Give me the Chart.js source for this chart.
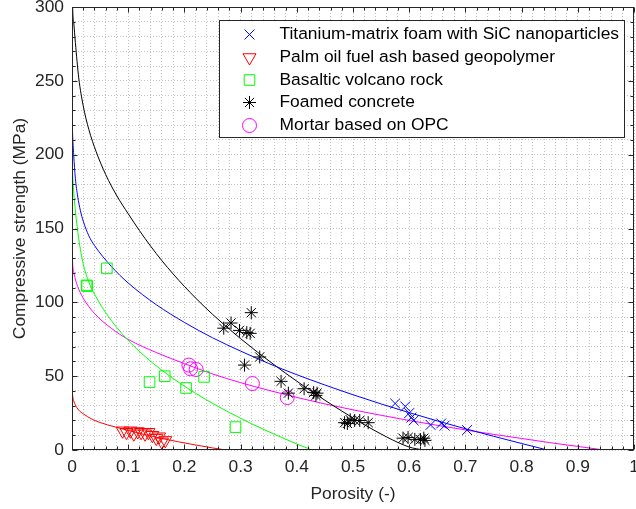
<!DOCTYPE html>
<html>
<head>
<meta charset="utf-8">
<script src="https://cdn.jsdelivr.net/npm/chart.js@4.4.0/dist/chart.umd.min.js"></script>
<style>
  html, body { margin: 0; padding: 0; background: #fff; }
</style>
</head>
<body>
<canvas id="chart" width="636" height="509"></canvas>
<script>
const tiPorosity = [0.575, 0.593, 0.600, 0.604, 0.608, 0.638, 0.657, 0.663, 0.703];
const tiStrength = [31.5, 29.5, 25, 22, 20, 17, 18, 16.5, 13.5];

const palmPorosity = [0.090, 0.097, 0.104, 0.110, 0.117, 0.123, 0.130, 0.136, 0.143, 0.150, 0.155, 0.160, 0.166];
const palmStrength = [13, 12, 13, 11, 12.5, 12, 11, 12, 10, 8, 9, 5.5, 6.5];

const basaltPorosity = [0.026, 0.027, 0.062, 0.138, 0.165, 0.203, 0.235, 0.291];
const basaltStrength = [111.5, 111, 123, 46, 50, 42, 49.5, 15.5];

const foamPorosity = [0.270, 0.283, 0.298, 0.311, 0.317, 0.319, 0.307, 0.334, 0.372, 0.385, 0.413, 0.430, 0.434, 0.436,
    0.485, 0.490, 0.495, 0.503, 0.512, 0.527, 0.589, 0.598, 0.610, 0.620, 0.626, 0.628];
const foamStrength = [82.5, 86, 81, 79.5, 79, 93, 57.5, 63, 46.5, 38.5, 41.5, 39, 37, 38.5,
    18.5, 18, 20.5, 20, 20, 18.5, 8, 8.5, 7.2, 7, 8, 6.5];

const mortarPorosity = [0.208, 0.211, 0.221, 0.321, 0.383];
const mortarStrength = [57.5, 55, 54.5, 45, 35.5];

// fitted curves
const tiFitP = [0, 0.001, 0.003, 0.006, 0.01, 0.015, 0.02, 0.03, 0.04, 0.07, 0.1, 0.15, 0.2, 0.25, 0.3, 0.35,
    0.4, 0.45, 0.5, 0.55, 0.6, 0.65, 0.7, 0.75, 0.8, 0.846];
const tiFitS = [231, 215, 200, 184, 172, 162, 155, 145, 138.5, 124.3, 113.1, 98.4, 86.4, 76, 67, 58.6,
    51, 44, 37.4, 31.2, 25.3, 19.7, 14.4, 9.3, 4.4, 0];

const palmFitP = [0, 0.001, 0.003, 0.006, 0.012, 0.02, 0.036, 0.05, 0.077, 0.1, 0.13, 0.16, 0.19, 0.22, 0.25, 0.274];
const palmFitS = [45, 38, 33.5, 30.5, 27, 24.5, 20.8, 18.6, 15.6, 13.2, 10.4, 7.8, 5.5, 3.4, 1.4, 0];

const basaltFitP = [0, 0.001, 0.003, 0.006, 0.012, 0.02, 0.03, 0.045, 0.06, 0.08, 0.1, 0.13, 0.16, 0.2, 0.24,
    0.28, 0.32, 0.36, 0.4, 0.427];
const basaltFitS = [200, 188, 175, 162, 143, 126, 113.8, 102.2, 93, 82.8, 74.2, 63.3, 54, 43.2, 33.8,
    25.4, 17.7, 10.7, 4.1, 0];

const foamFitP = [0, 0.001, 0.003, 0.006, 0.012, 0.02, 0.03, 0.043, 0.06, 0.08, 0.1, 0.12, 0.14, 0.16, 0.18, 0.2,
    0.22, 0.25, 0.28, 0.3, 0.33, 0.36, 0.4, 0.44, 0.48, 0.52, 0.56, 0.6, 0.625];
const foamFitS = [345, 303, 290, 276, 252, 233, 217, 202, 186.5, 172, 160, 148.6, 138, 128.2, 119.2, 110.8,
    102.9, 91.9, 81.8, 75.4, 66.3, 57.6, 46.6, 36.2, 26.4, 17.2, 8.8, 2, 0];

const mortarFitP = [0, 0.001, 0.003, 0.006, 0.01, 0.02, 0.04, 0.07, 0.1, 0.15, 0.2, 0.25, 0.3, 0.35, 0.4, 0.45,
    0.5, 0.55, 0.6, 0.65, 0.7, 0.75, 0.8, 0.85, 0.9, 0.947];
const mortarFitS = [142, 127.5, 121, 115.7, 110.8, 102.8, 92.5, 82.4, 74.9, 66, 58.5, 51.5, 45.6, 40.4, 35.6, 31.2,
    27.2, 23.5, 20, 16.7, 13.6, 10.6, 7.8, 5, 2.4, 0];

const seriesNames = [
    'Titanium-matrix foam with SiC nanoparticles',
    'Palm oil fuel ash based geopolymer',
    'Basaltic volcano rock',
    'Foamed concrete',
    'Mortar based on OPC'
];
const xTickLabels = ['0', '0.1', '0.2', '0.3', '0.4', '0.5', '0.6', '0.7', '0.8', '0.9', '1'];
const yTickLabels = ['0', '50', '100', '150', '200', '250', '300'];

const FONT = '"Liberation Sans", Arial, Helvetica, sans-serif';
const AXIS_COLOR = '#262626';

function toPoints(xs, ys) {
    return xs.map((v, i) => ({ x: v, y: ys[i] }));
}

// marker look for each series
const markers = [
    { color: '#0000ff', pointStyle: 'crossRot', radius: 7, rotation: 0 },
    { color: '#ff0000', pointStyle: 'triangle', radius: 7.5, rotation: 180 },
    { color: '#00ff00', pointStyle: 'rect', radius: 7.5, rotation: 0 },
    { color: '#000000', pointStyle: 'star', radius: 6.5, rotation: 0 },
    { color: '#ff00ff', pointStyle: 'circle', radius: 7, rotation: 0 },
];

function scatterSet(i, xs, ys) {
    const m = markers[i];
    return {
        label: seriesNames[i],
        data: toPoints(xs, ys),
        showLine: false,
        pointStyle: m.pointStyle,
        pointRadius: m.radius,
        pointRotation: m.rotation,
        borderColor: m.color,
        backgroundColor: 'rgba(0,0,0,0)',
        pointBorderWidth: 1,
        clip: 10,
    };
}

function curveSet(i, xs, ys) {
    return {
        label: seriesNames[i] + ' fit',
        data: toPoints(xs, ys),
        showLine: true,
        pointRadius: 0,
        borderColor: markers[i].color,
        borderWidth: 1,
        cubicInterpolationMode: 'monotone',
        fill: false,
    };
}

// box, inward ticks, tick labels, axis titles and the legend
const axisBox = {
    id: 'axisBox',
    afterDraw(chart) {
        const { ctx, chartArea: a, scales: { x, y } } = chart;
        const left = Math.round(a.left) + 0.5;
        const right = Math.round(a.right) - 0.5;
        const top = Math.round(a.top) + 0.5;
        const bottom = Math.round(a.bottom) - 0.5;

        ctx.save();
        ctx.strokeStyle = AXIS_COLOR;
        ctx.lineWidth = 1;
        ctx.strokeRect(left, top, right - left, bottom - top);

        ctx.beginPath();
        for (let i = 0; i <= 50; i++) {
            const px = Math.round(x.getPixelForValue(i / 50)) + 0.5;
            const len = i % 5 === 0 ? 5 : 3;
            ctx.moveTo(px, bottom); ctx.lineTo(px, bottom - len);
            ctx.moveTo(px, top); ctx.lineTo(px, top + len);
        }
        for (let i = 0; i <= 30; i++) {
            const py = Math.round(y.getPixelForValue(i * 10)) + 0.5;
            const len = i % 5 === 0 ? 5 : 3;
            ctx.moveTo(left, py); ctx.lineTo(left + len, py);
            ctx.moveTo(right, py); ctx.lineTo(right - len, py);
        }
        ctx.stroke();

        ctx.fillStyle = AXIS_COLOR;
        ctx.font = '17.4px ' + FONT;
        ctx.textAlign = 'center';
        ctx.textBaseline = 'middle';
        xTickLabels.forEach((t, i) => {
            ctx.fillText(t, x.getPixelForValue(i / 10), a.bottom + 17);
        });
        ctx.textAlign = 'right';
        yTickLabels.forEach((t, i) => {
            ctx.fillText(t, a.left - 8, y.getPixelForValue(i * 50));
        });

        ctx.textAlign = 'center';
        ctx.fillText('Porosity (-)', (a.left + a.right) / 2, a.bottom + 44);
        ctx.save();
        ctx.translate(20, (a.top + a.bottom) / 2);
        ctx.rotate(-Math.PI / 2);
        ctx.fillText('Compressive strength (MPa)', 0, 0);
        ctx.restore();

        // legend
        const lx = 219.5, ly = 20.5, lw = 405, lh = 117;
        ctx.fillStyle = '#ffffff';
        ctx.fillRect(lx, ly, lw, lh);
        ctx.strokeStyle = AXIS_COLOR;
        ctx.strokeRect(lx, ly, lw, lh);
        const rowY = [34.5, 57.5, 80, 102.5, 125.5];
        seriesNames.forEach((name, i) => {
            const m = markers[i];
            ctx.strokeStyle = m.color;
            ctx.fillStyle = 'rgba(0,0,0,0)';
            ctx.lineWidth = 1;
            Chart.helpers.drawPoint(ctx, {
                pointStyle: m.pointStyle,
                radius: m.radius,
                rotation: m.rotation,
                borderWidth: 1,
            }, 249.5, rowY[i]);
            ctx.fillStyle = '#000000';
            ctx.textAlign = 'left';
            ctx.fillText(name, 279.5, rowY[i]);
        });
        ctx.restore();
    }
};

const gridOpts = {
    color: 'rgba(38,38,38,0.28)',
    lineWidth: 1,
    drawTicks: false,
};

new Chart(document.getElementById('chart'), {
    type: 'scatter',
    data: {
        datasets: [
            scatterSet(0, tiPorosity, tiStrength),
            scatterSet(1, palmPorosity, palmStrength),
            scatterSet(2, basaltPorosity, basaltStrength),
            scatterSet(3, foamPorosity, foamStrength),
            scatterSet(4, mortarPorosity, mortarStrength),
            curveSet(0, tiFitP, tiFitS),
            curveSet(1, palmFitP, palmFitS),
            curveSet(2, basaltFitP, basaltFitS),
            curveSet(3, foamFitP, foamFitS),
            curveSet(4, mortarFitP, mortarFitS),
        ],
    },
    options: {
        responsive: false,
        animation: false,
        layout: {
            autoPadding: false,
            padding: { left: 72, right: 2, top: 7, bottom: 59 },
        },
        plugins: {
            legend: { display: false },
            tooltip: { enabled: false },
        },
        scales: {
            x: {
                type: 'linear',
                min: 0,
                max: 1,
                ticks: { display: false, stepSize: 0.02, autoSkip: false },
                grid: gridOpts,
                border: { display: false, dash: [1, 2] },
            },
            y: {
                type: 'linear',
                min: 0,
                max: 300,
                ticks: { display: false, stepSize: 10, autoSkip: false },
                grid: gridOpts,
                border: { display: false, dash: [1, 2] },
            },
        },
    },
    plugins: [axisBox],
});
</script>
</body>
</html>
